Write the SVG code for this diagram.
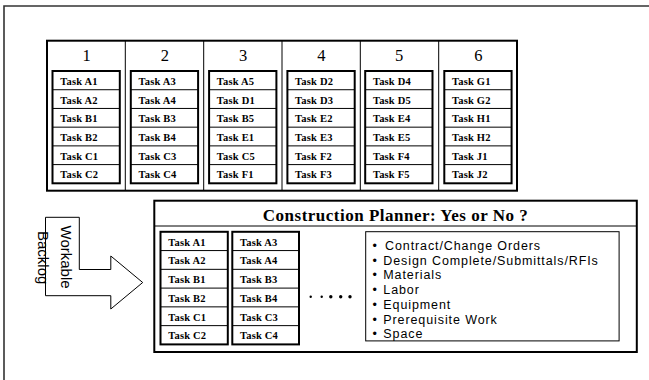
<svg xmlns="http://www.w3.org/2000/svg" width="649" height="380" viewBox="0 0 649 380">
<style>
.frame{fill:none;stroke:#333;stroke-width:1.6}
.thick{fill:#fff;stroke:#000;stroke-width:2}
.thin{fill:none;stroke:#000;stroke-width:1}
.num{font-family:"Liberation Serif","Times New Roman",serif;font-size:16.5px;fill:#000;text-anchor:middle}
.task{font-family:"Liberation Serif","Times New Roman",serif;font-size:10.5px;font-weight:bold;fill:#000;letter-spacing:0.2px}
.title{font-family:"Liberation Serif","Times New Roman",serif;font-size:17px;font-weight:bold;fill:#000;text-anchor:middle;letter-spacing:0.5px}
.item{font-family:"Liberation Sans",Arial,sans-serif;font-size:12.5px;fill:#000;letter-spacing:0.9px}
.arrowtxt{font-family:"Liberation Sans",Arial,sans-serif;font-size:15px;fill:#000}
</style>
<defs>
<g id="rows">
<rect class="thick" x="0" y="0" width="67.3" height="112.3"/>
<path class="thin" d="M0 18.72H67.3M0 37.44H67.3M0 56.16H67.3M0 74.88H67.3M0 93.6H67.3"/>
</g>
</defs>

<path class="frame" d="M4 380V6H649"/>

<g id="schedule-table">
<rect class="thick" x="47" y="40.7" width="470" height="150"/>
<path class="thin" d="M125.3 40.7V190.7M203.7 40.7V190.7M282 40.7V190.7M360.3 40.7V190.7M438.7 40.7V190.7"/>
</g>

<g id="col1" transform="translate(52.5,71)">
<text class="num" x="34" y="-10">1</text>
<use href="#rows"/>
<text class="task" x="7.7" y="13.8">Task A1</text>
<text class="task" x="7.7" y="32.5">Task A2</text>
<text class="task" x="7.7" y="51.2">Task B1</text>
<text class="task" x="7.7" y="70">Task B2</text>
<text class="task" x="7.7" y="88.7">Task C1</text>
<text class="task" x="7.7" y="107.4">Task C2</text>
</g>
<g id="col2" transform="translate(130.8,71)">
<text class="num" x="34" y="-10">2</text>
<use href="#rows"/>
<text class="task" x="7.7" y="13.8">Task A3</text>
<text class="task" x="7.7" y="32.5">Task A4</text>
<text class="task" x="7.7" y="51.2">Task B3</text>
<text class="task" x="7.7" y="70">Task B4</text>
<text class="task" x="7.7" y="88.7">Task C3</text>
<text class="task" x="7.7" y="107.4">Task C4</text>
</g>
<g id="col3" transform="translate(209.1,71)">
<text class="num" x="34" y="-10">3</text>
<use href="#rows"/>
<text class="task" x="7.7" y="13.8">Task A5</text>
<text class="task" x="7.7" y="32.5">Task D1</text>
<text class="task" x="7.7" y="51.2">Task B5</text>
<text class="task" x="7.7" y="70">Task E1</text>
<text class="task" x="7.7" y="88.7">Task C5</text>
<text class="task" x="7.7" y="107.4">Task F1</text>
</g>
<g id="col4" transform="translate(287.4,71)">
<text class="num" x="34" y="-10">4</text>
<use href="#rows"/>
<text class="task" x="7.7" y="13.8">Task D2</text>
<text class="task" x="7.7" y="32.5">Task D3</text>
<text class="task" x="7.7" y="51.2">Task E2</text>
<text class="task" x="7.7" y="70">Task E3</text>
<text class="task" x="7.7" y="88.7">Task F2</text>
<text class="task" x="7.7" y="107.4">Task F3</text>
</g>
<g id="col5" transform="translate(365.2,71)">
<text class="num" x="34" y="-10">5</text>
<use href="#rows"/>
<text class="task" x="7.7" y="13.8">Task D4</text>
<text class="task" x="7.7" y="32.5">Task D5</text>
<text class="task" x="7.7" y="51.2">Task E4</text>
<text class="task" x="7.7" y="70">Task E5</text>
<text class="task" x="7.7" y="88.7">Task F4</text>
<text class="task" x="7.7" y="107.4">Task F5</text>
</g>
<g id="col6" transform="translate(444.3,71)">
<text class="num" x="34" y="-10">6</text>
<use href="#rows"/>
<text class="task" x="7.7" y="13.8">Task G1</text>
<text class="task" x="7.7" y="32.5">Task G2</text>
<text class="task" x="7.7" y="51.2">Task H1</text>
<text class="task" x="7.7" y="70">Task H2</text>
<text class="task" x="7.7" y="88.7">Task J1</text>
<text class="task" x="7.7" y="107.4">Task J2</text>
</g>

<g id="connectors">
<g id="workable-backlog-arrow">
<path class="thin" fill="#fff" d="M45.5 217.3H79.3V269.5H110.8V256L142.7 282.5L110.8 309V295.7H45.5Z"/>
<text class="arrowtxt" transform="translate(60.5,225.5) rotate(90)">Workable</text>
<text class="arrowtxt" transform="translate(38,231) rotate(90)">Backlog</text>
</g>
</g>

<g id="construction-planner">
<rect class="thick" x="154.3" y="200.7" width="482.5" height="151.3"/>
<path class="thin" d="M154.3 226H636.8"/>
<text class="title" x="395.5" y="221">Construction Planner:  Yes or No ?</text>
</g>

<g id="planner-col1" transform="translate(160.5,231.8)">
<rect class="thick" x="0" y="0" width="67.3" height="112.6"/>
<path class="thin" d="M0 18.77H67.3M0 37.53H67.3M0 56.3H67.3M0 75.07H67.3M0 93.83H67.3"/>
<text class="task" x="7.7" y="13.9">Task A1</text>
<text class="task" x="7.7" y="32.7">Task A2</text>
<text class="task" x="7.7" y="51.4">Task B1</text>
<text class="task" x="7.7" y="70.2">Task B2</text>
<text class="task" x="7.7" y="89">Task C1</text>
<text class="task" x="7.7" y="107.7">Task C2</text>
</g>
<g id="planner-col2" transform="translate(232.3,231.8)">
<rect class="thick" x="0" y="0" width="66.7" height="112.6"/>
<path class="thin" d="M0 18.77H66.7M0 37.53H66.7M0 56.3H66.7M0 75.07H66.7M0 93.83H66.7"/>
<text class="task" x="7.7" y="13.9">Task A3</text>
<text class="task" x="7.7" y="32.7">Task A4</text>
<text class="task" x="7.7" y="51.4">Task B3</text>
<text class="task" x="7.7" y="70.2">Task B4</text>
<text class="task" x="7.7" y="89">Task C3</text>
<text class="task" x="7.7" y="107.7">Task C4</text>
</g>

<g id="ellipsis" fill="#000">
<circle cx="310.7" cy="296.8" r="1.2"/>
<circle cx="321.7" cy="296.8" r="1.2"/>
<circle cx="330.8" cy="296.8" r="1.7"/>
<circle cx="340.7" cy="296.8" r="1.7"/>
<circle cx="350" cy="296.8" r="1.7"/>
</g>

<g id="constraints-list">
<rect class="thin" x="365.7" y="231.7" width="253.4" height="109.2"/>
<text class="item" y="250"><tspan x="372.5">•</tspan><tspan x="385">Contract/Change Orders</tspan></text>
<text class="item" y="264.7"><tspan x="372.5">•</tspan><tspan x="383.3">Design Complete/Submittals/RFIs</tspan></text>
<text class="item" y="279.4"><tspan x="372.5">•</tspan><tspan x="383.3">Materials</tspan></text>
<text class="item" y="294.1"><tspan x="372.5">•</tspan><tspan x="383.3">Labor</tspan></text>
<text class="item" y="308.8"><tspan x="372.5">•</tspan><tspan x="383.3">Equipment</tspan></text>
<text class="item" y="323.5"><tspan x="372.5">•</tspan><tspan x="383.3">Prerequisite Work</tspan></text>
<text class="item" y="338.2"><tspan x="372.5">•</tspan><tspan x="383.3">Space</tspan></text>
</g>
</svg>
